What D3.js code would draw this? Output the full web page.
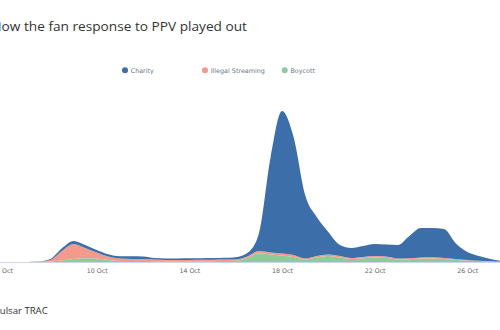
<!DOCTYPE html>
<html>
<head>
<meta charset="utf-8">
<script src="https://cdn.jsdelivr.net/npm/d3@7"></script>
<style>
  html, body { margin: 0; padding: 0; background: #fff; }
  svg { display: block; }
</style>
</head>
<body>
<div id="chart"></div>
<script>
// Half-day sample times, 6 Oct to 28 Oct
const days = [6, 6.5, 7, 7.5, 8, 8.5, 9, 9.5, 10, 10.5, 11, 11.5, 12, 12.5, 13, 13.5, 14, 14.5, 15, 15.5,
  16, 16.5, 17, 17.5, 18, 18.5, 19, 19.5, 20, 20.5, 21, 21.5, 22, 22.5, 23, 23.5, 24, 24.5, 25, 25.5,
  26, 26.5, 27, 27.5, 28];

// Mentions per half-day for each response type
const charity = [0, 0, 0, 2, 10, 27, 30, 30, 25, 22, 22, 27, 25, 15, 15, 15, 16, 16, 17, 18,
  22, 35, 170, 940, 1425, 1180, 635, 390, 225, 110, 100, 110, 120, 120, 135, 223, 295, 293, 290, 157,
  80, 47, 22, 5, 2];
const illegalStreaming = [0, 0, 0, 2, 15, 95, 150, 103, 60, 35, 25, 20, 20, 17, 13, 13, 14, 14, 15, 15,
  14, 15, 23, 20, 20, 20, 10, 15, 15, 15, 10, 13, 15, 15, 10, 10, 10, 12, 10, 10,
  5, 3, 3, 2, 1];
const boycott = [0, 0, 0, 1, 5, 15, 30, 37, 35, 20, 10, 10, 10, 8, 7, 7, 7, 8, 8, 9,
  12, 40, 87, 75, 65, 50, 25, 45, 60, 45, 30, 37, 45, 40, 25, 27, 35, 35, 30, 20,
  15, 10, 5, 3, 2];

const seriesNames = ["Boycott", "Illegal Streaming", "Charity"];
const legendNames = ["Charity", "Illegal Streaming", "Boycott"];
const tickDays = [6, 10, 14, 18, 22, 26];
const colors = { "Charity": "#3c6ea9", "Illegal Streaming": "#f49a8b", "Boycott": "#8dcaa2" };

const W = 500, H = 330;
const toDate = d => new Date(2020, 9, Math.floor(d), (d % 1) * 24);

const rows = days.map((d, i) => ({
  date: toDate(d),
  "Boycott": boycott[i],
  "Illegal Streaming": illegalStreaming[i],
  "Charity": charity[i]
}));

const svg = d3.select("#chart").append("svg").attr("width", W).attr("height", H);

// Time axis: 10 Oct sits at 96.7px, 23.16px per day
const x = d3.scaleTime()
  .domain([toDate(6), toDate(28)])
  .range([96.7 - 4 * 23.16, 96.7 + 18 * 23.16]);
const y = d3.scaleLinear().domain([0, 1600]).range([262, 102]);

const stack = d3.stack().keys(seriesNames);
const layers = stack(rows);

const area = d3.area()
  .curve(d3.curveMonotoneX)
  .x(d => x(d.data.date))
  .y0(d => y(d[0]))
  .y1(d => y(d[1]));

svg.append("g")
  .selectAll("path")
  .data(layers)
  .join("path")
  .attr("fill", d => colors[d.key])
  .attr("d", area);

// baseline
svg.append("line")
  .attr("x1", 0).attr("x2", W)
  .attr("y1", 262.5).attr("y2", 262.5)
  .attr("stroke", "#ccd6eb").attr("stroke-width", 1);

const axis = d3.axisBottom(x)
  .tickValues(tickDays.map(toDate))
  .tickFormat(d3.timeFormat("%-d %b"))
  .tickSize(0)
  .tickPadding(7);

const gx = svg.append("g").attr("transform", "translate(0,262)").call(axis);
gx.select(".domain").remove();
gx.selectAll("text")
  .attr("fill", "#666")
  .style("font-family", "'DejaVu Sans', Verdana, sans-serif")
  .style("font-size", "6.3px");

// Title (the page frame starts just inside its first letter)
svg.append("text")
  .attr("x", -8.5).attr("y", 30.5)
  .attr("textLength", 255.5)
  .attr("lengthAdjust", "spacingAndGlyphs")
  .attr("fill", "#333")
  .style("font-family", "'Open Sans', sans-serif")
  .style("font-size", "13.4px")
  .text("How the fan response to PPV played out");

// Legend
const legendX = [125, 205, 284.7];
const lg = svg.append("g");
legendNames.forEach((name, i) => {
  lg.append("circle")
    .attr("cx", legendX[i]).attr("cy", 70.3).attr("r", 3)
    .attr("fill", colors[name]);
  lg.append("text")
    .attr("x", legendX[i] + 5.7).attr("y", 72.6)
    .attr("fill", "#6c7b8c")
    .style("font-family", "'DejaVu Sans', Verdana, sans-serif")
    .style("font-size", "6.4px")
    .text(name);
});

// Source credit
svg.append("text")
  .attr("x", -6).attr("y", 314)
  .attr("textLength", 53.7)
  .attr("lengthAdjust", "spacingAndGlyphs")
  .attr("fill", "#333")
  .style("font-family", "'Open Sans', sans-serif")
  .style("font-size", "9.6px")
  .text("Pulsar TRAC");
</script>
</body>
</html>
